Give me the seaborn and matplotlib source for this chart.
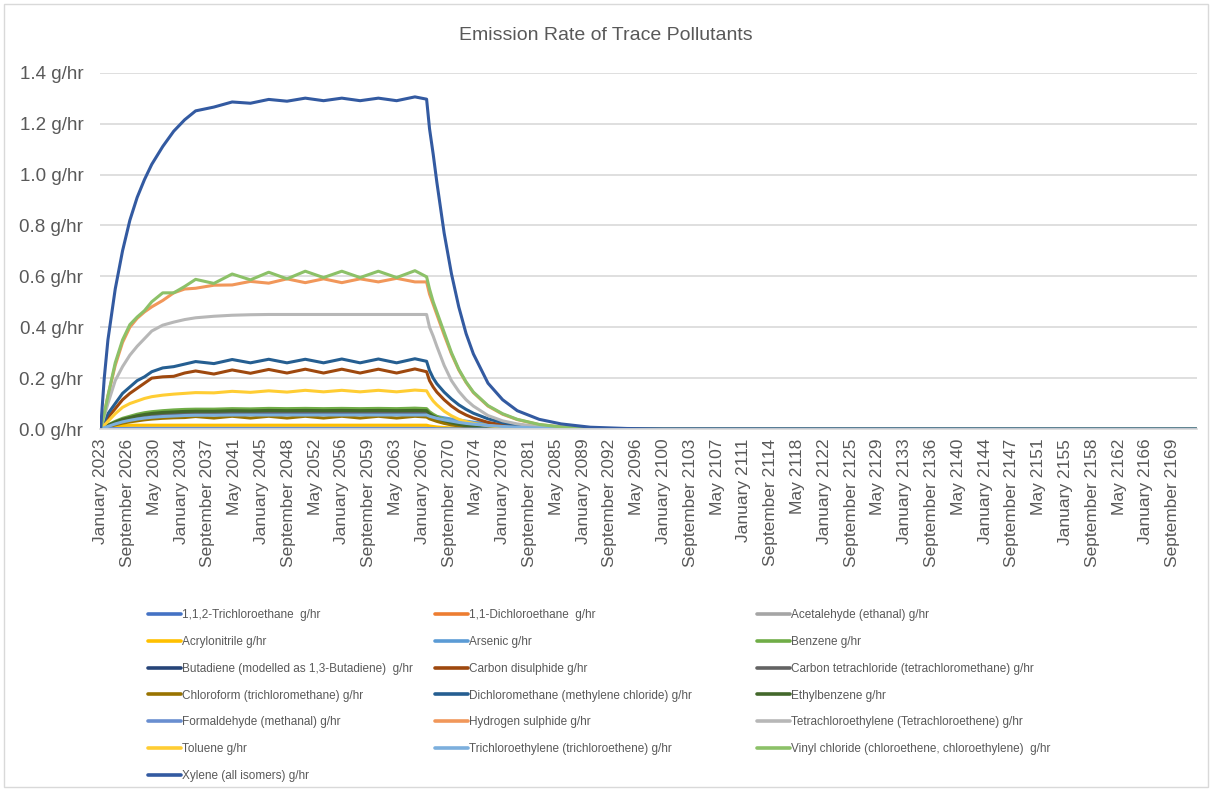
import matplotlib
matplotlib.use("Agg")
import matplotlib.pyplot as plt
from matplotlib.lines import Line2D
from matplotlib.patches import Rectangle
import seaborn as sns
import pandas as pd

# sample years (decimal) shared by every series
years = [2023, 2023.5, 2024, 2025, 2026, 2027, 2028, 2029, 2030, 2031.5, 2033, 2034.5,
         2036, 2038.5, 2041, 2043.5, 2046, 2048.5, 2051, 2053.5, 2056, 2058.5, 2061, 2063.5, 2066, 2067.6,
         2068, 2068.5, 2069, 2070, 2071, 2072, 2073, 2074, 2076, 2078, 2080, 2083, 2086, 2090, 2095, 2100, 2172.9]

trichloroethane_112 = [0, 0.0005, 0.001, 0.001, 0.001, 0.001, 0.001, 0.001, 0.001, 0.001, 0.001, 0.001,
                       0.001, 0.001, 0.001, 0.001, 0.001, 0.001, 0.001, 0.001, 0.001, 0.001, 0.001, 0.001, 0.001, 0.001,
                       0.001, 0.001, 0.001, 0.0005, 0.0005, 0, 0, 0, 0, 0, 0, 0, 0, 0, 0, 0, 0]
dichloroethane_11 = [0, 0.001, 0.002, 0.003, 0.003, 0.003, 0.003, 0.003, 0.003, 0.003, 0.003, 0.003,
                     0.003, 0.003, 0.003, 0.003, 0.003, 0.003, 0.003, 0.003, 0.003, 0.003, 0.003, 0.003, 0.003, 0.003,
                     0.003, 0.002, 0.002, 0.001, 0.001, 0.001, 0, 0, 0, 0, 0, 0, 0, 0, 0, 0, 0]
acetaldehyde = [0, 0.001, 0.002, 0.003, 0.004, 0.004, 0.004, 0.004, 0.004, 0.004, 0.004, 0.004,
                0.004, 0.004, 0.004, 0.004, 0.004, 0.004, 0.004, 0.004, 0.004, 0.004, 0.004, 0.004, 0.004, 0.004,
                0.003, 0.003, 0.002, 0.002, 0.001, 0.001, 0, 0, 0, 0, 0, 0, 0, 0, 0, 0, 0]
acrylonitrile = [0, 0.005, 0.009, 0.013, 0.014, 0.015, 0.015, 0.015, 0.015, 0.015, 0.015, 0.015,
                 0.015, 0.015, 0.015, 0.015, 0.015, 0.015, 0.015, 0.015, 0.015, 0.015, 0.015, 0.015, 0.015, 0.015,
                 0.012, 0.01, 0.008, 0.006, 0.004, 0.003, 0.002, 0.0015, 0.001, 0, 0, 0, 0, 0, 0, 0, 0]
arsenic = [0, 0.005, 0.011, 0.021, 0.03, 0.036, 0.041, 0.045, 0.049, 0.052, 0.054, 0.056,
           0.057, 0.057, 0.058, 0.058, 0.058, 0.058, 0.058, 0.058, 0.058, 0.058, 0.058, 0.058, 0.058, 0.058,
           0.055, 0.052, 0.049, 0.044, 0.039, 0.035, 0.031, 0.027, 0.021, 0.016, 0.012, 0.008, 0.005, 0.002, 0.001, 0, 0]
benzene = [0, 0.008, 0.016, 0.03, 0.042, 0.05, 0.058, 0.064, 0.068, 0.072, 0.075, 0.077,
           0.078, 0.078, 0.08, 0.079, 0.081, 0.08, 0.081, 0.08, 0.081, 0.08, 0.081, 0.08, 0.082, 0.08,
           0.068, 0.058, 0.05, 0.037, 0.027, 0.02, 0.015, 0.011, 0.006, 0.003, 0.002, 0.001, 0, 0, 0, 0, 0]
butadiene = [0, 0.006, 0.012, 0.024, 0.034, 0.04, 0.046, 0.05, 0.054, 0.057, 0.059, 0.061,
             0.062, 0.062, 0.063, 0.063, 0.063, 0.063, 0.063, 0.063, 0.063, 0.063, 0.063, 0.063, 0.063, 0.063,
             0.053, 0.045, 0.038, 0.028, 0.021, 0.015, 0.011, 0.008, 0.005, 0.002, 0.001, 0, 0, 0, 0, 0, 0]
carbon_disulphide = [0, 0.02, 0.045, 0.08, 0.115, 0.14, 0.16, 0.18, 0.2, 0.205, 0.207, 0.22,
                     0.228, 0.216, 0.232, 0.219, 0.234, 0.22, 0.235, 0.22, 0.235, 0.22, 0.235, 0.22, 0.236, 0.225,
                     0.19, 0.165, 0.145, 0.115, 0.09, 0.07, 0.055, 0.043, 0.026, 0.016, 0.009, 0.004, 0.002, 0, 0, 0, 0]
carbon_tetrachloride = [0, 0.006, 0.013, 0.025, 0.035, 0.042, 0.048, 0.053, 0.057, 0.06, 0.062, 0.064,
                        0.065, 0.065, 0.066, 0.066, 0.067, 0.066, 0.067, 0.066, 0.067, 0.066, 0.067, 0.066, 0.067, 0.066,
                        0.055, 0.047, 0.04, 0.03, 0.022, 0.016, 0.012, 0.009, 0.005, 0.003, 0.001, 0, 0, 0, 0, 0, 0]
chloroform = [0, 0.004, 0.008, 0.016, 0.023, 0.028, 0.032, 0.036, 0.039, 0.042, 0.044, 0.045,
              0.049, 0.043, 0.05, 0.043, 0.05, 0.043, 0.05, 0.043, 0.05, 0.043, 0.05, 0.043, 0.05, 0.047,
              0.04, 0.035, 0.03, 0.022, 0.016, 0.012, 0.009, 0.007, 0.004, 0.002, 0.001, 0, 0, 0, 0, 0, 0]
dichloromethane = [0, 0.03, 0.06, 0.1, 0.14, 0.165, 0.19, 0.205, 0.225, 0.24, 0.245, 0.255,
                   0.265, 0.257, 0.273, 0.26, 0.274, 0.26, 0.274, 0.26, 0.275, 0.26, 0.275, 0.26, 0.276, 0.266,
                   0.23, 0.2, 0.178, 0.145, 0.118, 0.095, 0.077, 0.062, 0.04, 0.025, 0.016, 0.008, 0.004, 0.001, 0, 0, 0]
ethylbenzene = [0, 0.007, 0.014, 0.027, 0.038, 0.045, 0.052, 0.057, 0.061, 0.065, 0.067, 0.069,
                0.07, 0.07, 0.072, 0.071, 0.073, 0.072, 0.073, 0.072, 0.073, 0.072, 0.073, 0.072, 0.073, 0.072,
                0.06, 0.051, 0.044, 0.033, 0.024, 0.018, 0.013, 0.01, 0.005, 0.003, 0.002, 0.001, 0, 0, 0, 0, 0]
formaldehyde = [0, 0.001, 0.001, 0.002, 0.002, 0.002, 0.002, 0.002, 0.002, 0.002, 0.002, 0.002,
                0.002, 0.002, 0.002, 0.002, 0.002, 0.002, 0.002, 0.002, 0.002, 0.002, 0.002, 0.002, 0.002, 0.002,
                0.002, 0.002, 0.001, 0.001, 0.001, 0.0005, 0, 0, 0, 0, 0, 0, 0, 0, 0, 0, 0]
hydrogen_sulphide = [0, 0.06, 0.13, 0.25, 0.34, 0.4, 0.435, 0.46, 0.48, 0.505, 0.535, 0.55,
                     0.553, 0.565, 0.566, 0.58, 0.573, 0.59, 0.575, 0.59, 0.575, 0.59, 0.578, 0.592, 0.578, 0.578,
                     0.53, 0.49, 0.45, 0.37, 0.295, 0.232, 0.183, 0.143, 0.09, 0.058, 0.037, 0.017, 0.008, 0.002, 0.0005, 0, 0]
tetrachloroethylene = [0, 0.05, 0.1, 0.19, 0.245, 0.29, 0.325, 0.355, 0.385, 0.408, 0.42, 0.43,
                       0.437, 0.443, 0.447, 0.449, 0.45, 0.45, 0.45, 0.45, 0.45, 0.45, 0.45, 0.45, 0.45, 0.45,
                       0.4, 0.365, 0.325, 0.25, 0.19, 0.148, 0.115, 0.09, 0.053, 0.032, 0.02, 0.009, 0.004, 0.001, 0, 0, 0]
toluene = [0, 0.015, 0.03, 0.06, 0.085, 0.1, 0.11, 0.12, 0.127, 0.133, 0.137, 0.14,
           0.143, 0.142, 0.148, 0.144, 0.15, 0.145, 0.152, 0.146, 0.152, 0.146, 0.152, 0.146, 0.153, 0.15,
           0.13, 0.11, 0.095, 0.07, 0.052, 0.038, 0.029, 0.022, 0.013, 0.007, 0.004, 0.002, 0.001, 0, 0, 0, 0]
trichloroethylene = [0, 0.005, 0.01, 0.02, 0.028, 0.034, 0.039, 0.043, 0.046, 0.049, 0.051, 0.053,
                     0.054, 0.054, 0.055, 0.055, 0.055, 0.055, 0.055, 0.055, 0.055, 0.055, 0.055, 0.055, 0.055, 0.055,
                     0.05, 0.046, 0.042, 0.036, 0.031, 0.026, 0.022, 0.019, 0.014, 0.01, 0.007, 0.004, 0.002, 0.001, 0, 0, 0]
vinyl_chloride = [0, 0.06, 0.13, 0.26, 0.35, 0.41, 0.44, 0.465, 0.5, 0.535, 0.535, 0.56,
                  0.588, 0.572, 0.609, 0.586, 0.616, 0.59, 0.62, 0.595, 0.62, 0.595, 0.62, 0.595, 0.622, 0.598,
                  0.55, 0.5, 0.46, 0.38, 0.3, 0.235, 0.185, 0.145, 0.092, 0.06, 0.038, 0.018, 0.008, 0.002, 0.0005, 0, 0]
xylene = [0, 0.2, 0.35, 0.55, 0.7, 0.82, 0.91, 0.98, 1.04, 1.11, 1.17, 1.215,
          1.25, 1.265, 1.285, 1.28, 1.295, 1.288, 1.3, 1.29, 1.3, 1.29, 1.3, 1.29, 1.305, 1.296,
          1.18, 1.08, 0.97, 0.77, 0.61, 0.48, 0.375, 0.295, 0.18, 0.115, 0.072, 0.038, 0.02, 0.007, 0.002, 0.0005, 0]

names = ["1,1,2-Trichloroethane  g/hr", "1,1-Dichloroethane  g/hr", "Acetalehyde (ethanal) g/hr",
         "Acrylonitrile g/hr", "Arsenic g/hr", "Benzene g/hr",
         "Butadiene (modelled as 1,3-Butadiene)  g/hr", "Carbon disulphide g/hr",
         "Carbon tetrachloride (tetrachloromethane) g/hr",
         "Chloroform (trichloromethane) g/hr", "Dichloromethane (methylene chloride) g/hr", "Ethylbenzene g/hr",
         "Formaldehyde (methanal) g/hr", "Hydrogen sulphide g/hr",
         "Tetrachloroethylene (Tetrachloroethene) g/hr",
         "Toluene g/hr", "Trichloroethylene (trichloroethene) g/hr",
         "Vinyl chloride (chloroethene, chloroethylene)  g/hr",
         "Xylene (all isomers) g/hr"]
series = [trichloroethane_112, dichloroethane_11, acetaldehyde, acrylonitrile, arsenic, benzene,
          butadiene, carbon_disulphide, carbon_tetrachloride, chloroform, dichloromethane, ethylbenzene,
          formaldehyde, hydrogen_sulphide, tetrachloroethylene, toluene, trichloroethylene,
          vinyl_chloride, xylene]
colors = ["#4472C4", "#ED7D31", "#A5A5A5", "#FFC000", "#5B9BD5", "#70AD47",
          "#264478", "#9E480E", "#636363", "#997300", "#255E91", "#43682B",
          "#698ED0", "#F1975A", "#B7B7B7", "#FFCD33", "#7CAFDD", "#8CC168", "#335AA1"]

tick_labels = ["January 2023", "September 2026", "May 2030", "January 2034", "September 2037", "May 2041",
               "January 2045", "September 2048", "May 2052", "January 2056", "September 2059", "May 2063",
               "January 2067", "September 2070", "May 2074", "January 2078", "September 2081", "May 2085",
               "January 2089", "September 2092", "May 2096", "January 2100", "September 2103", "May 2107",
               "January 2111", "September 2114", "May 2118", "January 2122", "September 2125", "May 2129",
               "January 2133", "September 2136", "May 2140", "January 2144", "September 2147", "May 2151",
               "January 2155", "September 2158", "May 2162", "January 2166", "September 2169"]

rows = []
for name, vals in zip(names, series):
    assert len(vals) == len(years), name
    for yr, v in zip(years, vals):
        rows.append({"month": (yr - 2023) * 12, "value": v, "pollutant": name})
df = pd.DataFrame(rows)

sns.set_theme(style="white")
plt.rcParams["font.family"] = ["Liberation Sans", "DejaVu Sans"]
txt = "#595959"

fig = plt.figure(figsize=(12.12, 7.91), dpi=100)
ax = fig.add_axes([100 / 1212, 1 - 429 / 791, 1097 / 1212, (429 - 72.7) / 791])

sns.lineplot(data=df, x="month", y="value", hue="pollutant", hue_order=names,
             palette=dict(zip(names, colors)), linewidth=2.2, legend=False, ax=ax)

yticks = [0, 0.2, 0.4, 0.6, 0.8, 1.0, 1.2, 1.4]
ax.set_ylim(0, 1.4)
ax.set_xlim(-1, 1800)
ax.set_yticks(yticks)
ax.set_yticklabels([f"{v:.1f} g/hr" for v in yticks], fontsize=13.5, color=txt)
ax.set_xticks(range(0, 1761, 44))
ax.set_xticklabels(tick_labels, rotation=90, fontsize=12.5, color=txt)
ax.tick_params(axis="y", length=0, pad=12)
ax.tick_params(axis="x", length=0, pad=7)
ax.set_xlabel("")
ax.set_ylabel("")
ax.yaxis.grid(True, color="#D9D9D9", linewidth=1.2)
ax.set_axisbelow(True)
for s in ["top", "right", "left"]:
    ax.spines[s].set_visible(False)
ax.spines["bottom"].set_color("#D9D9D9")

fig.text(0.5, 1 - 35 / 791, "Emission Rate of Trace Pollutants", ha="center", va="center",
         fontsize=14, color=txt)

# legend laid out row by row in three columns, one legend per column
col_x = [148, 435, 757]
for c in range(3):
    idx = list(range(c, len(names), 3))
    handles = [Line2D([0], [0], color=colors[i], lw=2.6) for i in idx]
    fig.legend(handles, [names[i] for i in idx], loc="upper left",
               bbox_to_anchor=(col_x[c] / 1212, 1 - 609 / 791),
               frameon=False, fontsize=8.5, labelcolor=txt, handlelength=2.8, handletextpad=0.1,
               labelspacing=1.26, borderpad=0, borderaxespad=0)

fig.patches.append(Rectangle((4 / 1212, 4 / 791), 1 - 8 / 1212, 1 - 8 / 791, transform=fig.transFigure,
                             fill=False, edgecolor="#D9D9D9", linewidth=1))

fig.savefig("out.png", dpi=100)
